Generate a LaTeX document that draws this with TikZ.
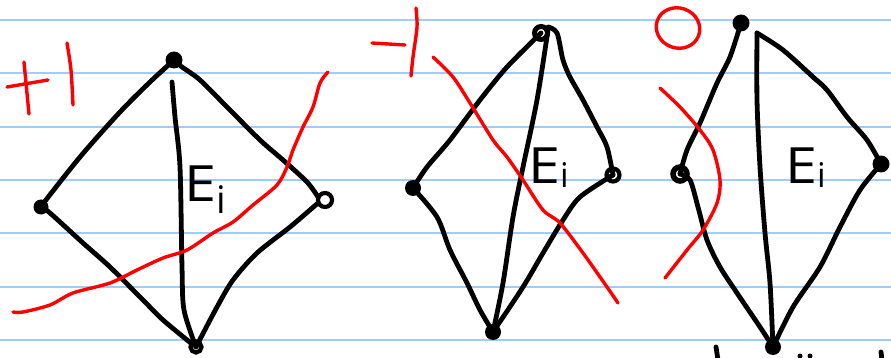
\documentclass[tikz,border=0pt]{standalone}
\usepackage{fontspec}
\setmainfont{Open Sans}
\begin{document}
\begin{tikzpicture}[x=1pt,y=-1pt,
  rule/.style={draw={rgb,255:red,160;green,205;blue,245}, line width=1.8pt},
  edge/.style={draw=black, line width=4.8pt, line cap=round, line join=round},
  redpen/.style={draw={rgb,255:red,255;green,0;blue,0}, line width=3.4pt, line cap=round, line join=round},
  vfill/.style={circle, fill=black, inner sep=0pt, minimum size=15pt},
  vring/.style={circle, draw=black, fill=white, line width=4.2pt, inner sep=0pt, minimum size=12pt},
  lab/.style={inner sep=0pt, anchor=base west},
  bigE/.style={font=\fontsize{50}{50}\selectfont}
]
\useasboundingbox[fill=white] (0,0) rectangle (891,358);
% ruled paper
\foreach \yy in {20,73.3,126.7,180,233.3,286.7,340}
  \draw[rule] (0,\yy) -- (891,\yy);

% ---------- diagram 1 ----------
\coordinate (v1) at (172,82);
\node[vfill, minimum size=17pt] (t1) at (174,60) {};
\node[vfill, minimum size=15pt] (l1) at (41,207) {};
\node[vring, minimum size=14pt] (r1) at (325,200) {};
\node[vring, minimum size=11pt] (b1) at (196,347) {};
\draw[edge] plot[smooth] coordinates {(t1.center) (150,82) (120,112) (80,157) (42,205)};
\draw[edge] plot[smooth] coordinates {(t1.center) (182,67) (200,80) (227,107) (260,140) (283,160) (307,182) (318,197)};
\draw[edge] plot[smooth] coordinates {(l1.center) (50,213) (83,243) (110,267) (143,300) (163,320) (192,344)};
\draw[edge] plot[smooth] coordinates {(318,203) (290,227) (257,253) (233,280) (217,307) (b1.center)};
\draw[edge] plot[smooth] coordinates {(v1) (175,117) (180,167) (182,267) (184,310) (b1.center)};
\node[lab, bigE] (E1) at (184,201) {\scalebox{1.15}[1]{E}\raisebox{-0.26em}{\fontsize{38}{38}\selectfont i}};
% red marks
\draw[redpen] (7,87) -- (48,80);
\draw[redpen] (24,62) -- (29,114);
\draw[redpen] plot[smooth] coordinates {(67,43) (71,70) (73,105)};
\draw[redpen] plot[smooth] coordinates {(13,312) (23,312) (50,305) (73,293) (110,283) (137,270) (163,258) (187,250) (213,233) (233,222) (253,205) (277,185) (287,167) (293,150) (303,127) (313,107) (320,83) (328,72)};

% ---------- diagram 2 ----------
\node[vring, minimum size=13pt, line width=5pt] (t2) at (541,33) {};
\node[vfill, minimum size=16pt] (l2) at (413,188) {};
\node[vring, minimum size=13pt] (r2) at (613,175) {};
\node[vfill, minimum size=16pt] (b2) at (493,332) {};
\draw[edge] plot[smooth] coordinates {(t2.center) (507,67) (480,100) (450,140) (427,167) (l2.center)};
\draw[edge] plot[smooth] coordinates {(548,27) (557,33) (563,60) (570,77) (583,100) (597,127) (607,147) (r2.center)};
\draw[edge] plot[smooth] coordinates {(548,30) (537,100) (523,167) (513,217) (503,283) (b2.center)};
\draw[edge] plot[smooth] coordinates {(l2.center) (437,217) (450,250) (467,283) (480,310) (b2.center)};
\draw[edge] plot[smooth] coordinates {(r2.center) (580,197) (563,220) (543,253) (523,287) (b2.center)};
\node[lab, bigE] (E2) at (528,184) {\scalebox{1.15}[1]{E}\raisebox{-0.08em}{\fontsize{34}{34}\selectfont i}};
% red marks
\draw[redpen] (372,43) -- (405,45);
\draw[redpen] plot[smooth] coordinates {(416,8) (417,27) (413,57) (411,76)};
\draw[redpen] plot[smooth] coordinates {(433,57) (453,77) (470,103) (493,140) (507,157) (523,180) (543,210) (560,223) (583,253) (607,287) (618,303)};

% ---------- diagram 3 ----------
\coordinate (v3) at (757,33);
\node[vfill, minimum size=17pt] (t3) at (741,23) {};
\node[vring, minimum size=14pt, line width=5.5pt] (l3) at (680,174) {};
\node[vfill, minimum size=17pt] (r3) at (881,164) {};
\node[vfill, minimum size=16pt] (b3) at (773,347) {};
\draw[edge] plot[smooth] coordinates {(t3.center) (730,57) (717,83) (700,123) (687,150) (l3.center)};
\draw[edge] plot[smooth] coordinates {(l3.center) (690,180) (698,207) (707,240) (720,267) (737,293) (760,327) (b3.center)};
\draw[edge] plot[smooth] coordinates {(v3) (757,100) (760,167) (765,233) (770,283) (b3.center)};
\draw[edge] plot[smooth] coordinates {(v3) (783,50) (813,77) (827,90) (847,117) (867,140) (r3.center)};
\draw[edge] plot[smooth] coordinates {(r3.center) (860,190) (840,227) (820,267) (793,307) (b3.center)};
\node[lab, bigE] (E3) at (785,184) {\scalebox{1.15}[1]{E}\raisebox{-0.08em}{\fontsize{34}{34}\selectfont i}};
% red marks
\draw[redpen, rotate around={-20:(678,28)}] (678,28) ellipse [x radius=22, y radius=20];
\draw[redpen] plot[smooth] coordinates {(660,88) (680,107) (700,130) (713,150) (720,180) (717,203) (703,230) (687,250) (665,278)};
% cut-off strokes at the bottom edge
\draw[edge] (716,347) -- (718,360);
\fill[black] (800,356) circle (2.5);
\fill[black] (810,356) circle (2.5);
\draw[edge] (881,352) -- (882,360);
\end{tikzpicture}
\end{document}
